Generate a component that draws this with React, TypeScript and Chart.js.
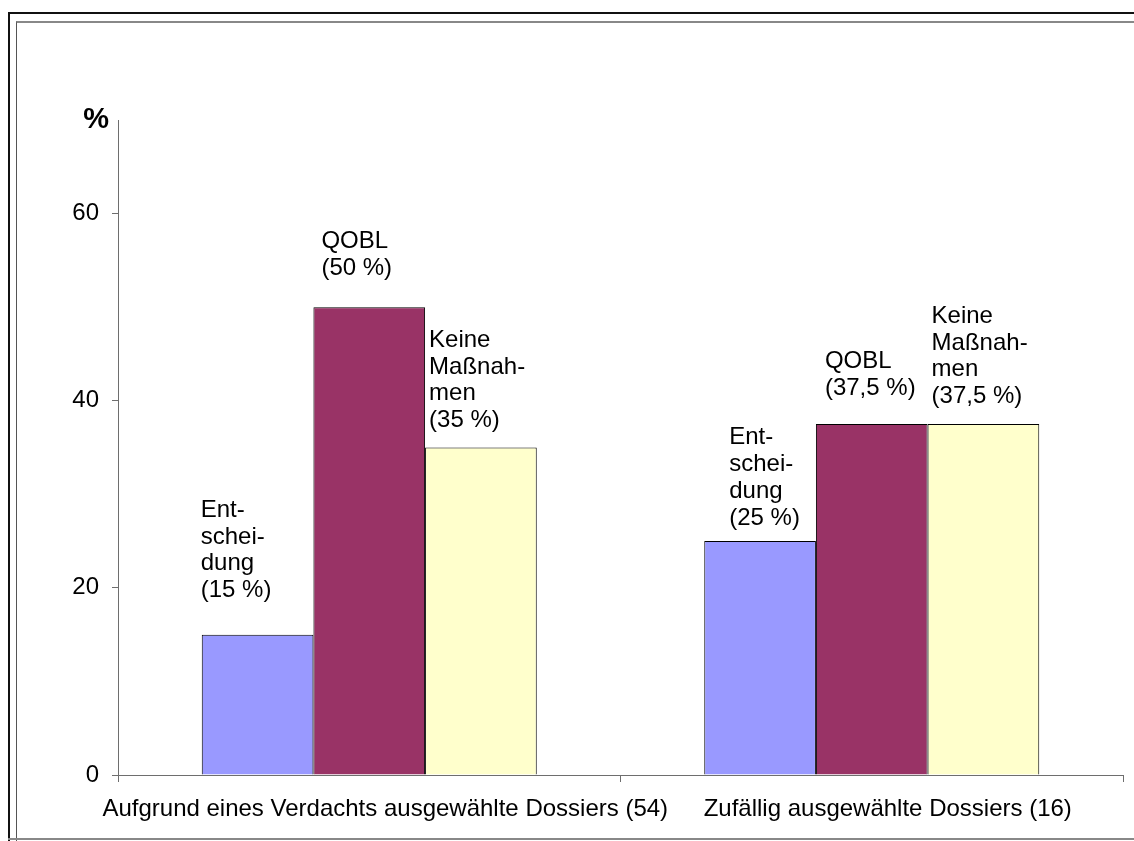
import React, { useEffect, useRef } from "react";
import { Chart, registerables } from "chart.js";

Chart.register(...registerables);

const categories = [
  "Aufgrund eines Verdachts ausgewählte Dossiers (54)",
  "Zufällig ausgewählte Dossiers (16)",
];
const seriesNames = ["Entscheidung", "QOBL", "Keine Maßnahmen"];
const entscheidung = [15, 25];
const qobl = [50, 37.5];
const keineMassnahmen = [35, 37.5];
const yTickValues = [0, 20, 40, 60];
const yMax = 70;
const yUnitLabel = "%";
const seriesLabelLines = [
  ["Ent-", "schei-", "dung"],
  ["QOBL"],
  ["Keine", "Maßnah-", "men"],
];

// label placement tweaks (style only): horizontal shift from bar's left edge, gap above bar top
const labelPlacement = [
  [{ dx: -1, gap: 37.5 }, { dx: 25, gap: 16.5 }],
  [{ dx: 8, gap: 32 }, { dx: 9, gap: 29 }],
  [{ dx: 4, gap: 20.5 }, { dx: 4, gap: 21 }],
];

const FONT = "'Liberation Sans', Arial, Helvetica, sans-serif";
const FONT_SIZE = 24;
const LINE_H = 26.7;

const fmt = (v: number) => "(" + String(v).replace(".", ",") + " %)";

const barLabelPlugin = {
  id: "barLabels",
  afterDatasetsDraw(chart: any) {
    const ctx = chart.ctx;
    ctx.save();
    ctx.font = `${FONT_SIZE}px ${FONT}`;
    ctx.fillStyle = "#000";
    ctx.textAlign = "left";
    ctx.textBaseline = "alphabetic";
    chart.data.datasets.forEach((ds: any, i: number) => {
      const meta = chart.getDatasetMeta(i);
      meta.data.forEach((bar: any, j: number) => {
        const p = labelPlacement[i][j];
        const lines = [...seriesLabelLines[i], fmt(ds.data[j])];
        const left = bar.x - bar.width / 2 + p.dx;
        const baseY = bar.y - p.gap;
        lines.forEach((ln, k) => {
          ctx.fillText(ln, left, baseY - (lines.length - 1 - k) * LINE_H);
        });
      });
    });
    ctx.restore();
  },
};

const unitPlugin = {
  id: "unitLabel",
  afterDraw(chart: any) {
    const ctx = chart.ctx;
    const area = chart.chartArea;
    ctx.save();
    ctx.font = `bold 29px ${FONT}`;
    ctx.fillStyle = "#000";
    ctx.textAlign = "right";
    ctx.textBaseline = "alphabetic";
    ctx.fillText(yUnitLabel, area.left - 9, area.top + 8);
    ctx.restore();
  },
};

export default function App() {
  const ref = useRef<HTMLCanvasElement | null>(null);

  useEffect(() => {
    if (!ref.current) return;
    const chart = new Chart(ref.current, {
      type: "bar",
      data: {
        labels: categories,
        datasets: [
          {
            label: seriesNames[0],
            data: entscheidung,
            backgroundColor: "#9999FF",
            borderColor: "#000000",
            borderWidth: 1,
          },
          {
            label: seriesNames[1],
            data: qobl,
            backgroundColor: "#993366",
            borderColor: "#000000",
            borderWidth: 1,
          },
          {
            label: seriesNames[2],
            data: keineMassnahmen,
            backgroundColor: "#FFFFCC",
            borderColor: "#000000",
            borderWidth: 1,
          },
        ],
      },
      options: {
        responsive: false,
        animation: false,
        devicePixelRatio: 1,
        layout: { padding: { left: 0, top: 120, right: 11, bottom: 0 } },
        datasets: {
          bar: { barPercentage: 1, categoryPercentage: 2 / 3 },
        },
        plugins: {
          legend: { display: false },
          tooltip: { enabled: false },
          title: { display: false },
        },
        scales: {
          x: {
            grid: {
              offset: true,
              drawOnChartArea: false,
              drawTicks: true,
              tickLength: 7,
              color: "#6e6e6e",
            },
            border: { display: true, color: "#6e6e6e", width: 1 },
            ticks: {
              color: "#000",
              font: { family: FONT, size: FONT_SIZE },
              padding: 13,
              labelOffset: 16,
              maxRotation: 0,
              autoSkip: false,
            },
            afterFit: (s: any) => {
              s.height = 66;
            },
          },
          y: {
            min: 0,
            max: yMax,
            afterBuildTicks: (axis: any) => {
              axis.ticks = yTickValues.map((v) => ({ value: v }));
            },
            grid: {
              drawOnChartArea: false,
              drawTicks: true,
              tickLength: 6,
              color: "#6e6e6e",
            },
            border: { display: true, color: "#6e6e6e", width: 1 },
            ticks: {
              color: "#000",
              font: { family: FONT, size: FONT_SIZE },
              padding: 13,
            },
            afterFit: (s: any) => {
              s.width = 118;
            },
          },
        },
      },
      plugins: [barLabelPlugin, unitPlugin],
    });
    return () => chart.destroy();
  }, []);

  return (
    <div
      style={{
        position: "fixed",
        left: 0,
        top: 0,
        width: 1134,
        height: 841,
        overflow: "hidden",
        background: "#fff",
      }}
    >
      <div
        style={{
          position: "absolute",
          left: 8,
          top: 12,
          width: 1200,
          height: 900,
          borderLeft: "2px solid #111",
          borderTop: "2px solid #111",
        }}
      />
      <div
        style={{
          position: "absolute",
          left: 16,
          top: 21,
          width: 1200,
          height: 900,
          borderLeft: "1px solid #555",
          borderTop: "2px solid #888",
        }}
      />
      <div
        style={{
          position: "absolute",
          left: 8,
          top: 838,
          width: 1134,
          height: 2,
          background: "#888",
        }}
      />
      <canvas
        ref={ref}
        width={1134}
        height={841}
        style={{ position: "absolute", left: 0, top: 0, width: 1134, height: 841 }}
      />
    </div>
  );
}
